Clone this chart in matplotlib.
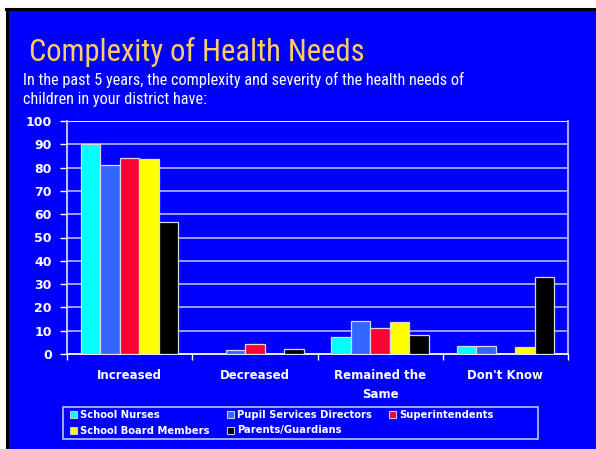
import matplotlib
matplotlib.use("Agg")
import matplotlib.pyplot as plt
import numpy as np
from matplotlib.patches import Rectangle, Patch

categories = ["Increased", "Decreased", "Remained the\nSame", "Don't Know"]
series_names = ["School Nurses", "Pupil Services Directors", "Superintendents",
                "School Board Members", "Parents/Guardians"]
nurses = [90, 0, 7.3, 3.4]
psd = [81, 1.7, 14.3, 3.4]
supt = [84.3, 4.3, 11.3, 0]
board = [83.5, 0, 13.6, 3]
parents = [56.5, 2, 8.2, 33.2]
yticks = list(range(0, 101, 10))

values = [nurses, psd, supt, board, parents]
colors = ["#00FFFF", "#3366FF", "#FF0033", "#FFFF00", "#000000"]

W, H = 596, 449
fig = plt.figure(figsize=(W / 100, H / 100), dpi=100)
fig.patch.set_facecolor("white")

bg = Rectangle((7 / W, 0), 1.0, 1 - 10 / H, transform=fig.transFigure,
               facecolor="#0000FF", edgecolor="none", zorder=-5)
fig.patches.append(bg)
fig.lines.append(plt.Line2D([7 / W, 7 / W], [0, 1 - 9 / H], transform=fig.transFigure,
                            color="black", lw=2.2, zorder=-4))
fig.lines.append(plt.Line2D([6 / W, 1], [1 - 9 / H, 1 - 9 / H], transform=fig.transFigure,
                            color="black", lw=2.2, zorder=-4))

tfam = ["Roboto Condensed", "Archivo Narrow", "PT Sans Narrow", "Roboto"]
fig.text(29 / W, 1 - 61 / H, "Complexity of Health Needs", color="#FFCC66",
         fontsize=22, family=tfam, va="baseline")
fig.text(23 / W, 1 - 85 / H,
         "In the past 5 years, the complexity and severity of the health needs of",
         color="white", fontsize=11.7, family=tfam, va="baseline")
fig.text(23 / W, 1 - 104 / H, "children in your district have:",
         color="white", fontsize=11.7, family=tfam, va="baseline")

ax = fig.add_axes([67 / W, 1 - 354 / H, (568 - 67) / W, (354 - 121) / H])
ax.set_facecolor("#0000FF")

n = len(values)
bw = 0.156
x = np.arange(len(categories)) + 0.5
for i, (vals, c) in enumerate(zip(values, colors)):
    ax.bar(x + (i - (n - 1) / 2) * bw, vals, width=bw, color=c,
           edgecolor="#D8D8E8", linewidth=0.9, zorder=3, label=series_names[i])

ax.set_xlim(0, len(categories))
ax.set_ylim(0, 100)
ax.set_yticks(yticks)
ax.set_yticklabels([str(v) for v in yticks], color="white", fontsize=9,
                   fontweight="bold", family="DejaVu Sans")
for v in yticks[1:]:
    ax.axhline(v, color="white" if v == 100 else "#A8A8FF", lw=1.3, zorder=1)

ax.set_xticks(np.arange(len(categories) + 1))
ax.set_xticklabels([])
ax.tick_params(axis="x", direction="out", length=4, color="white", width=1)
ax.tick_params(axis="y", direction="out", length=5, color="white", width=1, pad=6)
for i, lab in enumerate(categories):
    ax.text(x[i], -6.5, lab, ha="center", va="top", color="white", fontsize=8.5,
            fontweight="bold", family="DejaVu Sans", linespacing=1.6)

ax.spines["top"].set_visible(False)
ax.spines["left"].set_color("#D0D0FF")
ax.spines["left"].set_linewidth(1.3)
ax.spines["bottom"].set_color("white")
ax.spines["bottom"].set_linewidth(1.3)
ax.spines["right"].set_color("#A8A8FF")
ax.spines["right"].set_linewidth(1.5)

# legend frame
fig.patches.append(Rectangle((63 / W, 1 - 439 / H), (538 - 63) / W, (439 - 407) / H,
                             transform=fig.transFigure, facecolor="none",
                             edgecolor="#C0C0FF", linewidth=1.2, zorder=5))
handles = [Patch(facecolor=c, edgecolor="#C8C8D8", linewidth=0.8) for c in colors]
order = [0, 3, 1, 4, 2]
leg = fig.legend([handles[k] for k in order], [series_names[k] for k in order],
                 ncol=3, loc="upper left",
                 bbox_to_anchor=(68 / W, 1 - 408 / H), bbox_transform=fig.transFigure,
                 frameon=False,
                 prop={"family": "DejaVu Sans", "weight": "bold", "size": 7.2},
                 labelcolor="white", handlelength=0.7, handleheight=0.7,
                 handletextpad=0.3, columnspacing=1.75, borderpad=0.2, labelspacing=0.55,
                 borderaxespad=0)

fig.savefig("out.png", dpi=100, facecolor=fig.get_facecolor())
